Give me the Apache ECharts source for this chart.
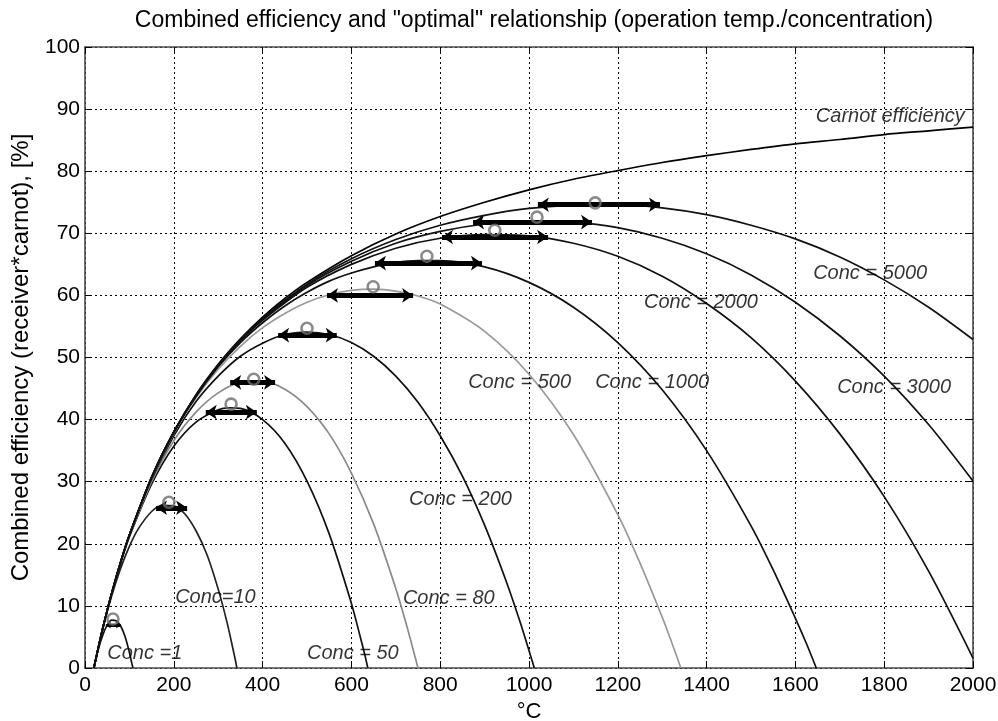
<!DOCTYPE html>
<html>
<head>
<meta charset="utf-8">
<title>Combined efficiency</title>
<script src="https://cdn.jsdelivr.net/npm/echarts@6/dist/echarts.min.js"></script>
<style>
  html, body { margin: 0; padding: 0; background: #fff; }
  #chart { width: 998px; height: 721px; }
</style>
</head>
<body>
<div id="chart"></div>
<script>
// curves: [temperature degC, combined efficiency %]
var carnot = [[20, 0], [40, 6.4], [60, 12.0], [80, 17.0], [100, 21.4], [150, 30.7], [200, 38.0], [250, 44.0], [300, 48.9], [350, 53.0], [400, 56.5], [450, 59.5], [500, 62.1], [600, 66.4], [700, 69.9], [800, 72.7], [900, 75.0], [1000, 77.0], [1100, 78.7], [1200, 80.1], [1300, 81.4], [1400, 82.5], [1500, 83.5], [1600, 84.4], [1700, 85.1], [1800, 85.9], [1900, 86.5], [2000, 87.1]]
var conc1 = [[20, 0], [30, 3.0], [40, 5.3], [50, 6.9], [60, 7.7], [70, 7.6], [80, 6.8], [90, 5.1], [100, 2.5], [105, 0.9], [108, 0]]
var conc10 = [[20, 0], [40, 6.3], [60, 11.6], [80, 16.0], [100, 19.6], [120, 22.4], [150, 25.2], [175, 26.2], [200, 26.1], [225, 24.8], [250, 22.1], [275, 18.2], [300, 12.7], [320, 7.3], [335, 2.5], [340, 0.8], [342, 0]]
var conc50 = [[20, 0], [40, 6.4], [60, 11.9], [80, 16.8], [100, 21.1], [150, 29.6], [200, 35.7], [250, 39.6], [300, 41.6], [325, 41.9], [350, 41.8], [400, 40.0], [450, 36.2], [500, 30.1], [550, 21.6], [600, 10.4], [620, 5.0], [630, 2.2], [637, 0]]
var conc80 = [[20, 0], [40, 6.4], [60, 12.0], [80, 16.9], [100, 21.2], [150, 30.0], [200, 36.6], [250, 41.2], [300, 44.3], [350, 46.0], [400, 46.2], [450, 44.9], [500, 42.1], [550, 37.7], [600, 31.4], [650, 23.2], [700, 12.8], [725, 6.7], [740, 2.7], [750, 0]]
var conc200 = [[20, 0], [40, 6.4], [60, 12.0], [80, 17.0], [100, 21.4], [150, 30.4], [200, 37.4], [250, 42.9], [300, 47.0], [350, 50.2], [400, 52.3], [450, 53.7], [500, 54.1], [550, 53.7], [600, 52.4], [650, 50.2], [700, 47.0], [750, 42.8], [800, 37.4], [850, 30.9], [900, 23.0], [950, 13.7], [980, 7.4], [1000, 2.8], [1012, 0]]
var conc500 = [[20, 0], [40, 6.4], [60, 12.0], [80, 17.0], [100, 21.4], [150, 30.6], [200, 37.8], [250, 43.5], [300, 48.1], [350, 51.8], [400, 54.8], [450, 57.1], [500, 58.9], [550, 60.1], [600, 60.8], [650, 61.0], [700, 60.7], [750, 59.9], [800, 58.6], [900, 54.2], [1000, 47.3], [1100, 37.6], [1200, 24.7], [1250, 16.9], [1300, 8.2], [1320, 4.4], [1342, 0]]
var conc1000 = [[20, 0], [40, 6.4], [60, 12.0], [80, 17.0], [100, 21.4], [150, 30.7], [200, 37.9], [250, 43.7], [300, 48.5], [350, 52.4], [400, 55.6], [450, 58.3], [500, 60.5], [550, 62.3], [600, 63.6], [650, 64.6], [700, 65.3], [750, 65.6], [800, 65.6], [900, 64.6], [1000, 62.1], [1100, 58.1], [1200, 52.4], [1300, 44.8], [1400, 35.0], [1500, 22.9], [1550, 15.8], [1600, 8.0], [1625, 3.9], [1647, 0]]
var conc2000 = [[20, 0], [40, 6.4], [60, 12.0], [80, 17.0], [100, 21.4], [150, 30.7], [200, 38.0], [250, 43.8], [300, 48.7], [350, 52.7], [400, 56.0], [500, 61.3], [600, 65.0], [700, 67.6], [800, 69.2], [900, 69.8], [1000, 69.6], [1100, 68.4], [1200, 66.3], [1300, 63.1], [1400, 58.7], [1500, 53.2], [1600, 46.2], [1700, 37.7], [1800, 27.6], [1900, 15.6], [2000, 1.6]]
var conc3000 = [[20, 0], [40, 6.4], [60, 12.0], [80, 17.0], [100, 21.4], [150, 30.7], [200, 38.0], [250, 43.9], [300, 48.7], [350, 52.8], [400, 56.2], [500, 61.6], [600, 65.5], [700, 68.4], [800, 70.3], [900, 71.5], [1000, 72.0], [1100, 71.8], [1200, 70.9], [1300, 69.2], [1400, 66.7], [1500, 63.3], [1600, 58.9], [1700, 53.5], [1800, 47.0], [1900, 39.2], [2000, 30.1]]
var conc5000 = [[20, 0], [40, 6.4], [60, 12.0], [80, 17.0], [100, 21.4], [150, 30.7], [200, 38.0], [250, 43.9], [300, 48.8], [350, 52.9], [400, 56.3], [500, 61.8], [600, 65.9], [700, 69.0], [800, 71.3], [900, 72.9], [1000, 74.0], [1100, 74.5], [1200, 74.6], [1300, 74.1], [1400, 73.0], [1500, 71.3], [1600, 69.1], [1700, 66.2], [1800, 62.5], [1900, 58.1], [2000, 52.9]]

// "optimal" points (circles) and the double arrows around them
var peakX = [63, 189, 329, 380, 500, 649, 770, 923, 1018, 1149]
var peakY = [7.9, 26.7, 42.5, 46.5, 54.7, 61.4, 66.3, 70.5, 72.6, 74.9]
var arrowFrom = [47, 160, 272, 327, 435, 545, 653, 804, 874, 1020]
var arrowTo = [81, 230, 387, 428, 567, 739, 894, 1043, 1142, 1295]
var arrowY = [6.9, 25.8, 41.2, 46.0, 53.6, 60.0, 65.2, 69.4, 71.8, 74.6]

// curve labels
var labelText = ['Carnot efficiency', 'Conc = 5000', 'Conc = 2000', 'Conc = 3000', 'Conc = 1000', 'Conc = 500', 'Conc = 200', 'Conc = 80', 'Conc = 50', 'Conc=10', 'Conc =1']
var labelX = [1646, 1640, 1259, 1694, 1149, 863, 730, 716, 500, 203, 50]
var labelY = [88.8, 63.6, 58.8, 45.2, 46.0, 46.0, 27.1, 11.2, 2.3, 11.4, 2.3]

var xTicks = { min: 0, max: 2000, interval: 200 }
var yTicks = { min: 0, max: 100, interval: 10 }

var FONT = '"Liberation Sans", Arial, Helvetica, sans-serif'

var curves = [
  { name: 'Carnot', data: carnot, color: '#000' },
  { name: 'Conc 1', data: conc1, color: '#111' },
  { name: 'Conc 10', data: conc10, color: '#222' },
  { name: 'Conc 50', data: conc50, color: '#111' },
  { name: 'Conc 80', data: conc80, color: '#8a8a8a' },
  { name: 'Conc 200', data: conc200, color: '#111' },
  { name: 'Conc 500', data: conc500, color: '#999' },
  { name: 'Conc 1000', data: conc1000, color: '#111' },
  { name: 'Conc 2000', data: conc2000, color: '#111' },
  { name: 'Conc 3000', data: conc3000, color: '#111' },
  { name: 'Conc 5000', data: conc5000, color: '#111' }
]

var seriesList = []
curves.forEach(function(c) {
  seriesList.push({
    name: c.name,
    type: 'line',
    data: c.data,
    smooth: 0.3,
    showSymbol: false,
    silent: true,
    lineStyle: { color: c.color, width: 1.7 },
    z: 3
  })
})

function arrowData(from, to) {
  var out = []
  for (var i = from; i < to; i++) {
    out.push({ coords: [[arrowFrom[i], arrowY[i]], [arrowTo[i], arrowY[i]]] })
  }
  return out
}

// the tiny arrow at Conc = 1 is drawn thinner than the rest
seriesList.push({
  name: 'arrow small',
  type: 'lines',
  coordinateSystem: 'cartesian2d',
  silent: true,
  symbol: ['arrow', 'arrow'],
  symbolSize: 5,
  lineStyle: { color: '#000', width: 3, opacity: 1 },
  data: arrowData(0, 1),
  z: 4
})
seriesList.push({
  name: 'arrows',
  type: 'lines',
  coordinateSystem: 'cartesian2d',
  silent: true,
  symbol: ['arrow', 'arrow'],
  symbolSize: 11,
  lineStyle: { color: '#000', width: 5, opacity: 1 },
  data: arrowData(1, arrowY.length),
  z: 4
})

seriesList.push({
  name: 'optimum',
  type: 'scatter',
  silent: true,
  symbol: 'circle',
  symbolSize: 11,
  itemStyle: { color: 'rgba(0,0,0,0)', borderColor: '#6e6e6e', borderWidth: 2.6 },
  data: peakX.map(function(x, i) { return [x, peakY[i]] }),
  z: 5
})

seriesList.push({
  name: 'labels',
  type: 'scatter',
  silent: true,
  symbolSize: 0,
  data: labelText.map(function(t, i) { return { value: [labelX[i], labelY[i]], name: t } }),
  label: {
    show: true,
    position: 'right',
    distance: 0,
    formatter: function(p) { return p.name },
    color: '#000',
    fontSize: 20,
    fontStyle: 'italic',
    fontFamily: FONT
  },
  z: 6
})

function plain(v) { return String(v) }

function frameAxis(ticks, pos, withLabels, extra) {
  var ax = {
    type: 'value',
    position: pos,
    min: ticks.min,
    max: ticks.max,
    interval: ticks.interval,
    axisLine: { show: true, onZero: false, lineStyle: { color: '#4a4a4a', width: 1.6 } },
    axisTick: { show: true, inside: true, length: 7, lineStyle: { color: '#000', width: 1 } },
    axisLabel: { show: withLabels, color: '#000', fontSize: 21, fontFamily: FONT, formatter: plain },
    splitLine: { show: withLabels, lineStyle: { color: '#000', width: 1, type: [2, 3] } }
  }
  for (var k in extra) ax[k] = extra[k]
  return ax
}

var chart = echarts.init(document.getElementById('chart'))
chart.setOption({
  animation: false,
  backgroundColor: '#fff',
  title: {
    text: 'Combined efficiency and "optimal" relationship (operation temp./concentration)',
    left: 529,
    top: 4,
    textAlign: 'center',
    textStyle: { color: '#000', fontSize: 23, fontWeight: 'normal', fontFamily: FONT }
  },
  grid: { left: 85, right: 25, top: 47, bottom: 53, outerBoundsMode: 'none' },
  xAxis: [
    frameAxis(xTicks, 'bottom', true, {
      name: '\u00B0C',
      nameLocation: 'middle',
      nameGap: 26,
      nameTextStyle: { color: '#000', fontSize: 22, fontFamily: FONT },
      axisLabel: { show: true, color: '#000', fontSize: 21, fontFamily: FONT, margin: 7, formatter: plain }
    }),
    frameAxis(xTicks, 'top', false, {})
  ],
  yAxis: [
    frameAxis(yTicks, 'left', true, {
      name: 'Combined efficiency (receiver*carnot), [%]',
      nameLocation: 'middle',
      nameGap: 52,
      nameTextStyle: { color: '#000', fontSize: 24, fontFamily: FONT },
      axisLabel: { show: true, color: '#000', fontSize: 21, fontFamily: FONT, margin: 5, formatter: plain }
    }),
    frameAxis(yTicks, 'right', false, {})
  ],
  series: seriesList
})
</script>
</body>
</html>
